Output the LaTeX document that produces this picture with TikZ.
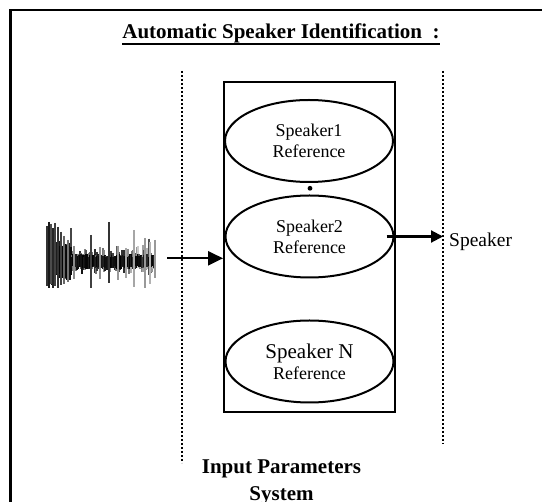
\documentclass[tikz,border=0pt]{standalone}
\usepackage{fontspec}
\setmainfont{Liberation Serif}
\usetikzlibrary{arrows.meta,shapes.geometric}
\tikzset{
  refell/.style={draw, ellipse, line width=2pt, minimum width=168pt, minimum height=82pt, inner sep=0pt, align=center, font=\fontsize{18}{21}\selectfont},
  bigarr/.style={line width=2.2pt, -{Triangle[length=15pt,width=14pt]}},
  smallarr/.style={line width=2.1pt, -{Triangle[length=12pt,width=12pt]}},
  sepline/.style={line width=2pt, dash pattern=on 2pt off 2pt, black},
  boldtxt/.style={inner sep=0pt, font=\fontsize{21}{27}\selectfont\bfseries},
}
\begin{document}
\begin{tikzpicture}[x=1pt,y=-1pt]
\useasboundingbox (0,0) rectangle (542,502);
\clip (0,0) rectangle (542,502);
% outer frame (clipped at right and bottom)
\draw[line width=2.6pt] (10.5,10) rectangle (560,520);
% title
\node[boldtxt, anchor=base] (title) at (281,39) {Automatic Speaker Identification~~:};
\draw[line width=2pt] ([yshift=-5pt]title.base west) -- ([yshift=-5pt]title.base east);
% dotted separators
\coordinate (lt) at (181.5,71);
\coordinate (lb) at (181.5,463);
\coordinate (rt) at (442.5,71);
\coordinate (rb) at (442.5,444);
\draw[sepline] (lt) -- (lb);
\draw[sepline] (rt) -- (rb);
% reference box
\node[draw, line width=1.9pt, minimum width=171pt, minimum height=330pt, inner sep=0pt] (box) at (309.5,247) {};
% reference ellipses
\node[refell] (e1) at (309,141) {Speaker1\\Reference};
\fill (310,188.3) circle (2.4pt);
\node[refell] (e2) at (309.5,236.5) {Speaker2\\Reference};
\node[refell] (e3) at (309.5,361.5) {{\fontsize{21}{21}\selectfont Speaker N}\\Reference};
% waveform
\begin{scope}
\pgfmathsetseed{23}
\foreach \i in {0,...,108}{
  \pgfmathsetmacro\env{\i<25 ? 36 : (\i>82 ? 22 : 14)}
  \pgfmathsetmacro\up{4+\env*rnd*rnd}
  \pgfmathsetmacro\dn{4+0.75*\env*rnd*rnd}
  \pgfmathsetmacro\g{\i<25 ? 60+40*rnd : (\i<80 ? 45+50*rnd : 20+50*rnd)}
  \draw[line width=1.4pt, black!\g] (47+\i, 262-\up) -- (47+\i, 262+\dn);
  \pgfmathsetmacro\c{\i<80 ? 88+12*rnd : 75+25*rnd}
  \pgfmathsetmacro\cu{\i<25 ? 14+6*rnd : 5+3*rnd}
  \pgfmathsetmacro\cd{\i<25 ? 12+6*rnd : 4+3*rnd}
  \draw[line width=1.2pt, black!\c] (47+\i, 262-\cu) -- (47+\i, 262+\cd);
}
\foreach \x/\t/\b/\g in {47/226/286/80, 49/222/288/90, 51/224/284/70, 53/228/288/85, 55/223/286/75, 58/227/288/80, 61/232/285/75, 64/236/284/60, 68/240/282/55, 74/246/279/45, 91/235/288/75, 100/247/279/45, 109/222/283/80, 118/246/280/40, 126/248/278/35, 134/230/287/35, 145/238/288/40, 150/242/284/30, 155/240/278/40}{
  \draw[line width=1.4pt, black!\g] (\x,\t) -- (\x,\b);
}
\end{scope}
\coordinate (wavend) at (167,258.3);
% arrows
\draw[bigarr] (wavend) -- (box.west |- wavend);
\node[inner sep=0pt, anchor=base west, font=\fontsize{19.5}{21}\selectfont] (spk) at (449,247) {Speaker};
\draw[smallarr] ([xshift=-8pt]e2.east) -- ([xshift=-6pt]spk.west |- e2.east);
% bottom label
\node[boldtxt, anchor=base] (inp1) at (281.5,474) {Input Parameters};
\node[boldtxt, anchor=base] (inp2) at (281.5,501) {System};
\end{tikzpicture}
\end{document}
